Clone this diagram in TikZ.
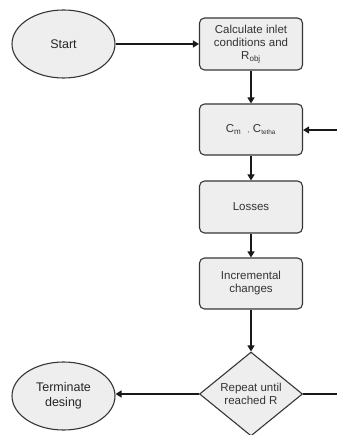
\documentclass[tikz,border=0pt]{standalone}
\usepackage{fontspec}
\setmainfont{Liberation Sans}
\usetikzlibrary{shapes.geometric,arrows.meta}
\definecolor{boxfill}{HTML}{EEEEEE}
\definecolor{boxline}{HTML}{363636}
\begin{document}
\begin{tikzpicture}[x=1pt,y=-1pt,
  stepbox/.style={draw=boxline,fill=boxfill,line width=1.1pt,rounded corners=5pt,
    minimum width=103pt,inner sep=0pt,align=center,font=\fontsize{11.5}{13}\selectfont,text=black!80},
  oval/.style={draw=boxline,fill=boxfill,line width=1.1pt,ellipse,minimum width=103pt,
    minimum height=68pt,inner sep=0pt,align=center,font=\fontsize{12.5}{15}\selectfont,text=black!85},
  decision/.style={draw=boxline,fill=boxfill,line width=1.1pt,diamond,minimum width=103pt,
    minimum height=84pt,inner sep=0pt,align=center,font=\fontsize{11.5}{13.5}\selectfont,text=black!80},
  flow/.style={draw=black!90,line width=1.3pt,-{Triangle[length=6pt,width=7pt]}},
  plain/.style={draw=black!90,line width=1.3pt}]
\useasboundingbox[fill=white] (0,0) rectangle (337,435);
% nodes
\node[oval] (start) at (63.5,44) {Start};
\node[stepbox,minimum height=52pt] (calc) at (251,44) {Calculate inlet\\conditions and\\R\textsubscript{obj}};
\node[stepbox,minimum height=51pt] (coef) at (251,129.5) {C\textsubscript{m}\ \ \scalebox{0.6}{,} C\textsubscript{\scalebox{0.8}{tetha}}};
\node[stepbox,minimum height=52pt] (loss) at (251,207) {Losses};
\node[stepbox,minimum height=51pt] (incr) at (251,283.5) {Incremental\\changes};
\node[decision] (rep) at (251,394) {Repeat until\\reached R};
\node[oval] (term) at (63.5,396) {Terminate\\desing};
% loop-back points at the right edge
\coordinate (fbA) at (337,394);
\coordinate (fbB) at (337,130);
% connectors
\draw[flow] (start) -- (calc);
\draw[flow] (calc) -- (coef);
\draw[flow] (coef) -- (loss);
\draw[flow] (loss) -- (incr);
\draw[flow] (incr) -- (rep);
\draw[flow] (rep.west) -- (term.east |- rep.west);
\draw[plain] (rep.east) -- (fbA);
\draw[flow] (fbB) -- (coef.east |- fbB);
\end{tikzpicture}
\end{document}
